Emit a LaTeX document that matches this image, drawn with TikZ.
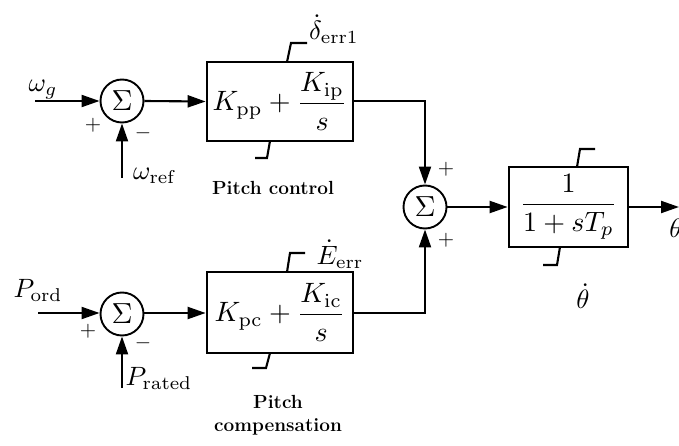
\documentclass[tikz,border=0pt]{standalone}
\usepackage{amsmath}
\usepackage{graphicx}
\usetikzlibrary{arrows.meta}
\newcommand{\bx}[1]{\scalebox{2.8}{#1}}
\newcommand{\lb}[1]{\scalebox{2.65}{#1}}
\newcommand{\sg}[1]{\scalebox{2.9}{#1}}
\newcommand{\sn}[1]{\scalebox{2.1}{#1}}
\begin{document}
\begin{tikzpicture}[x=1pt,y=-1pt,
  line width=2.1pt,
  sumnode/.style={circle,draw,line width=1.9pt,minimum size=43pt,inner sep=0pt},
  blk/.style={draw,line width=2.7pt,inner sep=0pt},
  arr/.style={-{Triangle[length=18pt,width=12pt]}},
  lbl/.style={inner sep=0pt},
  sgn/.style={inner sep=0pt},
  captxt/.style={font=\fontsize{19}{23}\selectfont\bfseries,inner sep=0pt,align=center},
  tick/.style={line width=2.1pt}
]
\useasboundingbox (0,0) rectangle (679,446);

% sums
\node[sumnode] (s1) at (122,101) {\sg{$\Sigma$}};
\node[sumnode] (s2) at (122,314) {\sg{$\Sigma$}};
\node[sumnode] (s3) at (425,207) {\sg{$\Sigma$}};

% blocks
\node[blk,minimum width=146pt,minimum height=79pt] (b1) at (280,101.5) {\bx{$K_{\mathrm{pp}}+\dfrac{K_{\mathrm{ip}}}{s}$}};
\node[blk,minimum width=146pt,minimum height=81pt] (b2) at (280,312.5) {\bx{$K_{\mathrm{pc}}+\dfrac{K_{\mathrm{ic}}}{s}$}};
\node[blk,minimum width=119pt,minimum height=80pt] (b3) at (568.5,207) {\bx{$\dfrac{1}{1+sT_p}$}};

% coordinates
\coordinate (in1) at (35,101);
\coordinate (in2) at (38,313);
\coordinate (ref1) at (122,178);
\coordinate (ref2) at (122,388);
\coordinate (j1) at (425,101);
\coordinate (j2) at (425,313);
\coordinate (out) at (679,207);

% connectors
\draw[arr] (in1) -- (s1.west);
\draw[arr] (ref1) -- (s1.south);
\draw[arr] (s1.east) -- (b1.west);
\draw[arr] (in2) -- (s2.west |- in2);
\draw[arr] (ref2) -- (s2.south);
\draw[arr] (s2.east |- in2) -- (b2.west |- in2);
\draw[arr] (b1.east |- j1) -- (j1) -- (s3.north);
\draw[arr] (b2.east |- j2) -- (j2) -- (s3.south);
\draw[arr] (s3.east) -- (b3.west);
\draw[arr] (b3.east) -- (out);

% ticks
\coordinate (t1a) at (287,62); \coordinate (t1b) at (291,43); \coordinate (t1c) at (307,43);
\coordinate (u1a) at (270,141); \coordinate (u1b) at (267,158); \coordinate (u1c) at (255,158);
\coordinate (t2a) at (287,272); \coordinate (t2b) at (290,253); \coordinate (t2c) at (305,253);
\coordinate (u2a) at (270,353); \coordinate (u2b) at (266,368); \coordinate (u2c) at (252,368);
\coordinate (t3a) at (577,167); \coordinate (t3b) at (580,149); \coordinate (t3c) at (595,149);
\coordinate (u3a) at (560,247); \coordinate (u3b) at (557,265); \coordinate (u3c) at (543,265);
\draw[tick] (t1a) -- (t1b) -- (t1c);
\draw[tick] (u1a) -- (u1b) -- (u1c);
\draw[tick] (t2a) -- (t2b) -- (t2c);
\draw[tick] (u2a) -- (u2b) -- (u2c);
\draw[tick] (t3a) -- (t3b) -- (t3c);
\draw[tick] (u3a) -- (u3b) -- (u3c);

% labels
\node[lbl] (lwg) at (43,90) {\lb{$\omega_g$}};
\node[lbl] (lwr) at (155,176) {\lb{$\omega_{\mathrm{ref}}$}};
\node[lbl] (lpo) at (38,290) {\lb{$P_{\mathrm{ord}}$}};
\node[lbl] (lpr) at (159,378) {\lb{$P_{\mathrm{rated}}$}};
\node[lbl] (ld) at (334,29) {\lb{$\dot{\delta}_{\mathrm{err1}}$}};
\node[lbl] (le) at (340,254) {\lb{$\dot{E}_{\mathrm{err}}$}};
\node[lbl] (lth) at (583,296) {\lb{$\dot{\theta}$}};
\node[lbl] (lt) at (676,228) {\lb{$\theta$}};

\node[sgn] (p1) at (93,125) {\sn{$+$}};
\node[sgn] (m1) at (143,133) {\sn{$-$}};
\node[sgn] (p2) at (88,331) {\sn{$+$}};
\node[sgn] (m2) at (143,343) {\sn{$-$}};
\node[sgn] (p3) at (446,169) {\sn{$+$}};
\node[sgn] (p4) at (446,240) {\sn{$+$}};

\node[captxt] (c1) at (273,188) {Pitch control};
\node[captxt] (c2) at (278,415) {Pitch\\compensation};
\end{tikzpicture}
\end{document}
